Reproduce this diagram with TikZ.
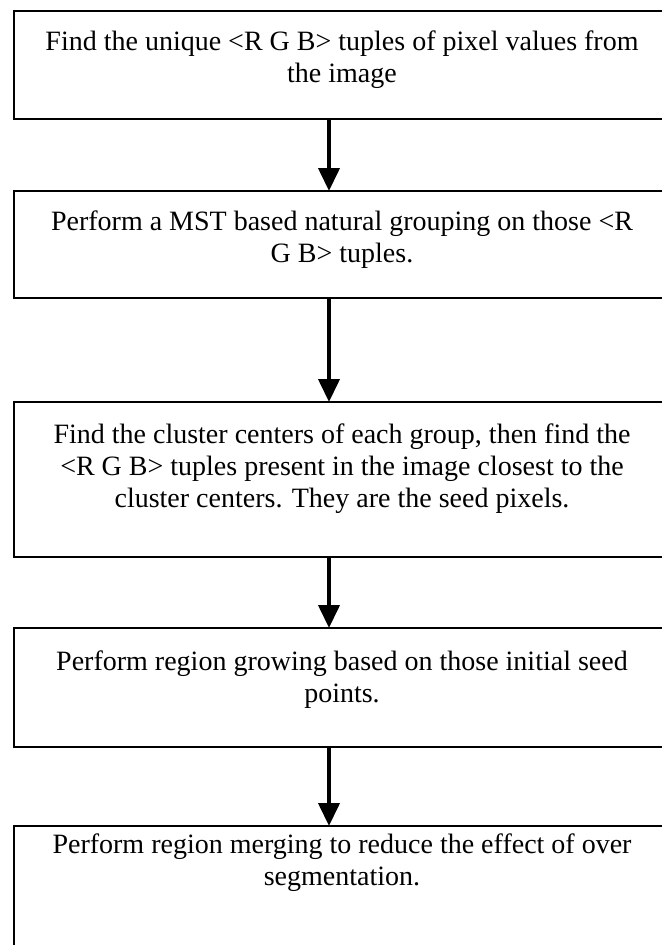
\documentclass[tikz,border=0pt]{standalone}
\usepackage{fontspec}
\setmainfont{Liberation Serif}
\usetikzlibrary{arrows.meta}
\begin{document}
\begin{tikzpicture}[x=1pt,y=-1pt,
  frame/.style={line width=2.5pt, line join=miter},
  txt/.style={align=center, font=\fontsize{28}{32}\selectfont, inner sep=0pt},
  arr/.style={line width=4pt, -{Triangle[width=21pt,length=23pt]}},
  boxarea/.style={minimum width=648pt, inner sep=0pt, outer sep=0pt}
]
\useasboundingbox (0,0) rectangle (662,945);
% box areas (no right edge visible)
\node[boxarea, minimum height=108pt] (b1) at (338,65) {};
\node[boxarea, minimum height=107pt] (b2) at (338,244.5) {};
\node[boxarea, minimum height=155pt] (b3) at (338,479.5) {};
\node[boxarea, minimum height=119pt] (b4) at (338,687.5) {};
\node[boxarea, minimum height=119pt] (b5) at (338,885.5) {};
\draw[frame] (b1.north east) -- (b1.north west) -- (b1.south west) -- (b1.south east);
\draw[frame] (b2.north east) -- (b2.north west) -- (b2.south west) -- (b2.south east);
\draw[frame] (b3.north east) -- (b3.north west) -- (b3.south west) -- (b3.south east);
\draw[frame] (b4.north east) -- (b4.north west) -- (b4.south west) -- (b4.south east);
\draw[frame] (b5.north east) -- (b5.north west) -- (b5.south west);
% texts
\node[txt] (t1) at (342,60) {Find the unique <R G B> tuples of pixel values from\\the image};
\node[txt] (t2) at (342,240) {Perform a MST based natural grouping on those <R\\G B> tuples.};
\node[txt] (t3) at (342,469) {Find the cluster centers of each group, then find the\\<R G B> tuples present in the image closest to the\\cluster centers. They are the seed pixels.};
\node[txt] (t4) at (342,680) {Perform region growing based on those initial seed\\points.};
\node[txt] (t5) at (342,863) {Perform region merging to reduce the effect of over\\segmentation.};
% arrows
\coordinate (ax) at (329,0);
\draw[arr] (b1.south -| ax) -- (b2.north -| ax);
\draw[arr] (b2.south -| ax) -- (b3.north -| ax);
\draw[arr] (b3.south -| ax) -- (b4.north -| ax);
\draw[arr] (b4.south -| ax) -- (b5.north -| ax);
\end{tikzpicture}
\end{document}
